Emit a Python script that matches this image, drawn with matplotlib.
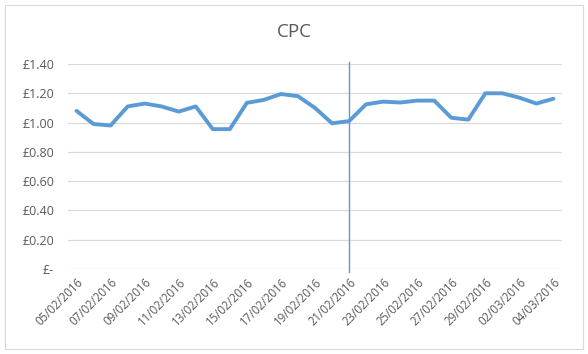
import matplotlib
matplotlib.use("Agg")
from matplotlib import pyplot as plt
from matplotlib.patches import Rectangle
from matplotlib.ticker import FuncFormatter

plt.rcParams['font.family'] = ['Open Sans', 'DejaVu Sans']

dates = ['05/02/2016', '06/02/2016', '07/02/2016', '08/02/2016', '09/02/2016',
         '10/02/2016', '11/02/2016', '12/02/2016', '13/02/2016', '14/02/2016',
         '15/02/2016', '16/02/2016', '17/02/2016', '18/02/2016', '19/02/2016',
         '20/02/2016', '21/02/2016', '22/02/2016', '23/02/2016', '24/02/2016',
         '25/02/2016', '26/02/2016', '27/02/2016', '28/02/2016', '29/02/2016',
         '01/03/2016', '02/03/2016', '03/03/2016', '04/03/2016']
cpc = [1.08, 0.99, 0.98, 1.11, 1.13, 1.11, 1.075, 1.11, 0.955, 0.955,
       1.135, 1.155, 1.195, 1.18, 1.10, 0.995, 1.01, 1.125, 1.143, 1.137,
       1.15, 1.15, 1.033, 1.02, 1.20, 1.20, 1.17, 1.13, 1.163]
marker_date = '21/02/2016'
y_ticks = [0, 0.2, 0.4, 0.6, 0.8, 1.0, 1.2, 1.4]

blue = '#5B9BD5'
grey = '#595959'

fig = plt.figure(figsize=(5.88, 3.54), dpi=100)
fig.patches.append(Rectangle((5 / 588, 5 / 354), 578 / 588, 344 / 354,
                             transform=fig.transFigure, fill=False,
                             edgecolor='#D9D9D9', linewidth=0.8))
ax = fig.add_axes([68 / 588, 1 - 269 / 354, (562 - 68) / 588, 205 / 354])

x = list(range(len(dates)))
ax.plot(x, cpc, color=blue, linewidth=2.8, solid_joinstyle='round',
        solid_capstyle='round', zorder=3)

mx = dates.index(marker_date)
ax.axvline(mx, ymin=-0.015, ymax=1.01, color=blue, linewidth=1.0,
           clip_on=False, zorder=2)

ax.set_xlim(-0.5, len(dates) - 0.5)
ax.set_ylim(0, 1.4)
ax.set_yticks(y_ticks)
ax.yaxis.set_major_formatter(FuncFormatter(
    lambda v, p: '£-' if v == 0 else '£{:.2f}'.format(v)))
ax.set_xticks(x[::2])
ax.set_xticklabels(dates[::2], rotation=45, ha='right', rotation_mode='anchor')

ax.grid(axis='y', color='#D9D9D9', linewidth=0.9)
ax.set_axisbelow(True)
for s in ax.spines.values():
    s.set_visible(False)
ax.tick_params(axis='both', length=0, colors=grey)
ax.tick_params(axis='y', pad=10, labelsize=9)
ax.tick_params(axis='x', pad=5, labelsize=8.3)

fig.text(294 / 588, 1 - 32 / 354, 'CPC', ha='center', va='center',
         fontsize=13.5, color=grey)

plt.savefig('out.png', dpi=100)
